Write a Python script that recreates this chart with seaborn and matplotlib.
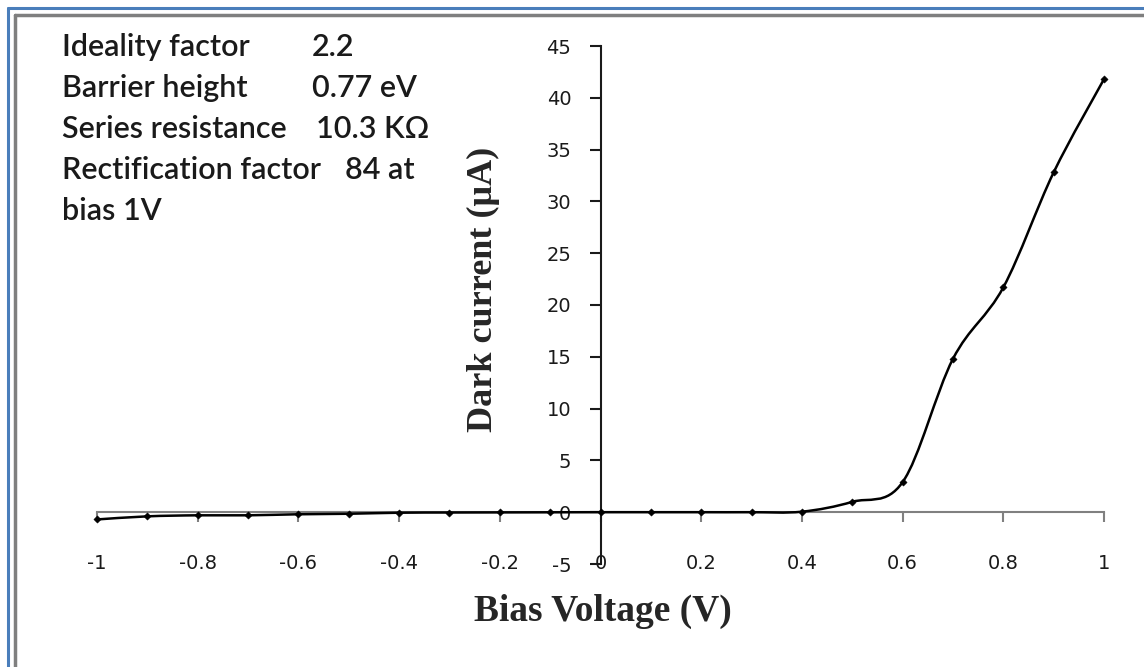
import numpy as np
import pandas as pd
import seaborn as sns
import matplotlib.pyplot as plt
from matplotlib.path import Path
from matplotlib.patches import PathPatch
from matplotlib.lines import Line2D

# values
bias_v = [-1.0, -0.9, -0.8, -0.7, -0.6, -0.5, -0.4, -0.3, -0.2, -0.1, 0.0,
          0.1, 0.2, 0.3, 0.4, 0.5, 0.6, 0.7, 0.8, 0.9, 1.0]
dark_current = [-0.7, -0.4, -0.3, -0.3, -0.2, -0.15, -0.05, -0.03, -0.02, -0.01, 0.0,
                0.0, 0.0, 0.0, 0.05, 1.0, 2.9, 14.8, 21.7, 32.8, 41.8]
x_ticks = [-1, -0.8, -0.6, -0.4, -0.2, 0, 0.2, 0.4, 0.6, 0.8, 1]
x_tick_labels = ['-1', '-0.8', '-0.6', '-0.4', '-0.2', '0', '0.2', '0.4', '0.6', '0.8', '1']
y_ticks = [-5, 0, 5, 10, 15, 20, 25, 30, 35, 40, 45]
info_labels = ['Ideality factor', 'Barrier height', 'Series resistance', 'Rectification factor', 'bias 1V']
info_values = ['2.2', '0.77 eV', '10.3 K\u03a9', '84 at', '']

df = pd.DataFrame({'bias': bias_v, 'current': dark_current})

sns.set_style('white')
plt.rcParams['font.family'] = ['DejaVu Sans']
plt.rcParams['axes.unicode_minus'] = False
W, H = 1144, 667
fig = plt.figure(figsize=(W / 100, H / 100), dpi=100)
ax = fig.add_axes([97 / W, 1 - 564 / H, (1104 - 97) / W, (564 - 46) / H])

#smoothed line like excel (catmull-rom as bezier segments)
pts = df[['bias', 'current']].to_numpy()
verts = [pts[0]]
codes = [Path.MOVETO]
for i in range(len(pts) - 1):
    p0 = pts[max(i - 1, 0)]
    p1 = pts[i]
    p2 = pts[i + 1]
    p3 = pts[min(i + 2, len(pts) - 1)]
    verts += [p1 + (p2 - p0) / 6, p2 - (p3 - p1) / 6, p2]
    codes += [Path.CURVE4] * 3
ax.add_patch(PathPatch(Path(verts, codes), fill=False, lw=1.8, edgecolor='black',
                       clip_on=False, zorder=3))
sns.scatterplot(data=df, x='bias', y='current', marker='D', s=14, color='black',
                edgecolor='black', ax=ax, clip_on=False, zorder=4, legend=False)

ax.set_xlim(-1, 1)
ax.set_ylim(-5, 45)
for s in ['right', 'top', 'bottom']:
    ax.spines[s].set_visible(False)
ax.spines['left'].set_position(('data', 0))
ax.spines['left'].set_color('#1a1a1a')
ax.spines['left'].set_linewidth(1.5)

ax.set_xticks(x_ticks, x_tick_labels)
ax.tick_params(axis='x', length=0, pad=-7, labelsize=14, labelcolor='#1a1a1a')
ax.set_yticks(y_ticks)
ax.tick_params(axis='y', left=True, length=8, width=1.5, color='#1a1a1a', pad=13,
               labelsize=14, labelcolor='#1a1a1a', direction='out')

#x axis line through y=0
sec = ax.secondary_xaxis(0.1)
sec.set_xticks(x_ticks)
sec.set_xticklabels([])
sec.tick_params(bottom=True, length=7, width=1.5, color='#808080', direction='out')
sec.spines['bottom'].set_color('#808080')
sec.spines['bottom'].set_linewidth(1.5)

ax.set_xlabel('Bias Voltage (V)', family='Liberation Serif', weight='bold', fontsize=27)
ax.xaxis.set_label_coords(0.5025, -0.058)
ax.set_ylabel('Dark current (\u03bcA)', family='Liberation Serif', weight='bold', fontsize=26)
ax.yaxis.set_label_coords(0.40, 0.53)

# info text in the top left
val_x = [312, 312, 316, 345]
for i, (lab, val) in enumerate(zip(info_labels, info_values)):
    yy = 1 - (47 + 41 * i) / H
    fig.text(62 / W, yy, lab, family='Lato', weight='semibold', fontsize=22,
             color='#1a1a1a', va='center', ha='left')
    if val:
        fig.text(val_x[i] / W, yy, val, family='Lato', weight='semibold', fontsize=22,
                 color='#1a1a1a', va='center', ha='left')

# chart border lines
fig.add_artist(Line2D([8 / W, 8 / W], [0, 1 - 8 / H], color='#4a7ebb', lw=2.2))
fig.add_artist(Line2D([8 / W, 1], [1 - 8 / H, 1 - 8 / H], color='#4a7ebb', lw=2.2))
fig.add_artist(Line2D([15 / W, 15 / W], [0, 1 - 15 / H], color='#7f7f7f', lw=2.5))
fig.add_artist(Line2D([15 / W, 1], [1 - 15 / H, 1 - 15 / H], color='#7f7f7f', lw=2.5))

plt.savefig('out.png', dpi=100)
